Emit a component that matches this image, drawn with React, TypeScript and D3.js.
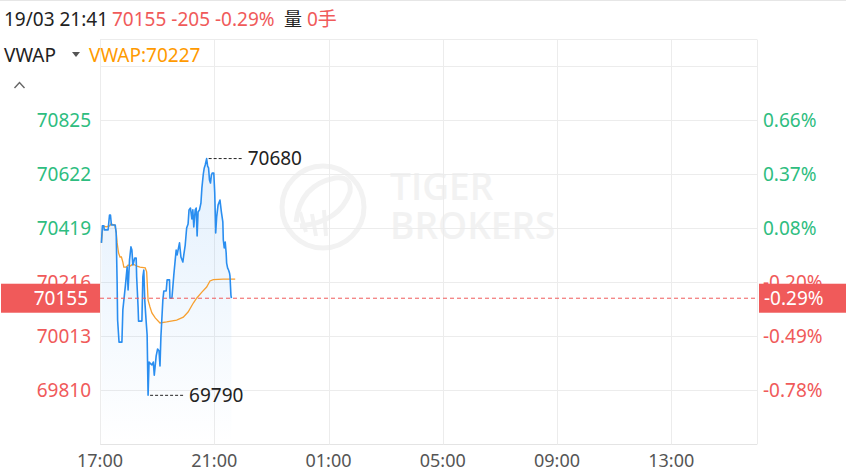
import React from 'react';
import * as d3 from 'd3';

const W = 846;
const H = 473;

// minutes since 17:00
const priceMinutes = [3,5,8,9,17,20,22,24,32,34,36,37,40,46,48,53,57,59,62,65,67,69,73,76,77,80,81,88,90,92,94,97,99,101,103,109,112,114,118,121,124,126,128,132,134,139,141,146,147,151,153,155,158,160,162,167,170,174,176,179,182,185,187,190,193,195,197,200,202,204,206,209,212,214,217,219,221,224,226,228,230,232,234,236,239,241,243,245,248,252,255,258,259,261,263,265,266,268,270,272,273,275,276];
const prices = [70363,70427,70427,70412,70412,70468,70468,70430,70430,70400,70212,70073,69990,69990,70111,70197,70272,70186,70299,70348,70336,70280,70306,70306,70235,70122,70069,70069,70235,70261,70148,70066,70017,69790,69915,69904,69915,69866,69938,69964,69957,69900,70013,70148,70182,70182,70224,70224,70155,70155,70197,70242,70299,70336,70318,70363,70310,70291,70318,70355,70419,70434,70487,70494,70453,70487,70423,70487,70494,70389,70479,70487,70513,70569,70622,70645,70656,70680,70652,70645,70599,70588,70618,70626,70626,70551,70400,70460,70505,70524,70479,70442,70374,70344,70366,70325,70287,70269,70261,70250,70239,70167,70155];

const vwapMinutes = [3,6,13,20,23,31,34,36,39,42,45,48,50,55,59,64,69,73,78,84,95,98,101,105,109,116,126,140,161,175,185,196,203,214,224,231,238,259,284];
const vwapValues = [70363,70427,70423,70427,70434,70430,70404,70363,70325,70310,70310,70291,70272,70272,70280,70276,70284,70280,70276,70272,70269,70254,70148,70122,70100,70081,70062,70066,70073,70084,70103,70137,70155,70178,70197,70220,70225,70227,70227];

const yTicks = [70825, 70622, 70419, 70216, 70013, 69810];
const xTickMinutes = [0, 240, 480, 720, 960, 1200];
const xTickLabels = ['17:00', '21:00', '01:00', '05:00', '09:00', '13:00'];

const prevClose = 70360;
const lastPrice = 70155;
const lastChange = -205;
const lastPct = '-0.29%';
const vwapLast = 70227;
const headerTime = '19/03 21:41';
const volumeText = '0手';

const FONT = "'Noto Sans', 'Noto Sans CJK SC', sans-serif";
const RED = '#f05a5a';
const GREEN = '#2ebd80';
const BLUE = '#2a8ef0';
const ORANGE = '#f7a030';
const GRID = '#ececec';
const FS = 19;

export default function App() {
  const left = 100;
  const right = 757;
  const top = 66;
  const bottom = 444;
  const x = d3.scaleLinear().domain([0, 1380]).range([left, right]);
  const y = d3.scaleLinear().domain([69607, 71028]).range([bottom, top]);

  const priceData: [number, number][] = priceMinutes.map((m, i) => [m, prices[i]]);
  const vwapData: [number, number][] = vwapMinutes.map((m, i) => [m, vwapValues[i]]);

  const line = d3.line<[number, number]>().x(d => x(d[0])).y(d => y(d[1]));
  const area = d3.area<[number, number]>().x(d => x(d[0])).y0(bottom).y1(d => y(d[1]));

  const hiIdx = d3.maxIndex(prices);
  const loIdx = d3.minIndex(prices);
  const hx = x(priceMinutes[hiIdx]);
  const hy = y(prices[hiIdx]);
  const lx = x(priceMinutes[loIdx]);
  const ly = y(prices[loIdx]);

  const pct = (v: number) => ((v - prevClose) / prevClose * 100).toFixed(2) + '%';
  const col = (v: number) => (v > prevClose ? GREEN : RED);
  const yLast = y(lastPrice);
  const crisp = (v: number) => Math.round(v) + 0.5;

  const hGrid = [top, ...yTicks.map(t => y(t))];
  const vGrid = [...xTickMinutes.map(m => x(m)), right];

  return (
    <svg width={W} height={H} style={{ position: 'absolute', left: 0, top: 0, background: '#fff' }} fontFamily={FONT}>
      <defs>
        <linearGradient id="fillGrad" x1="0" y1="0" x2="0" y2="1">
          <stop offset="0%" stopColor="#2a8ef0" stopOpacity={0.13} />
          <stop offset="100%" stopColor="#2a8ef0" stopOpacity={0} />
        </linearGradient>
      </defs>
      <rect x={0} y={0} width={W} height={H} fill="#fff" />
      <line x1={0} x2={W} y1={0.5} y2={0.5} stroke="#e6e6e6" />

      {/* header */}
      <text x={4} y={26} fontSize={FS} fill="#222">{headerTime}</text>
      <text x={112} y={26} fontSize={FS} fill={RED}>{`${lastPrice} ${lastChange} ${lastPct}`}</text>
      <text x={284} y={26} fontSize={18} fill="#222">量</text>
      <text x={307} y={26} fontSize={FS} fill={RED}>{volumeText}</text>

      {/* watermark */}
      <g>
        <circle cx={323} cy={207} r={41} fill="none" stroke="#f2f2f2" strokeWidth={5} />
        <path d="M296,222 Q300,185 335,178 Q352,176 350,192 Q340,222 300,226" fill="none" stroke="#f2f2f2" strokeWidth={5} />
        <path d="M300,212 L306,232 M312,214 L316,236 M324,210 L326,236" stroke="#f2f2f2" strokeWidth={4} />
        <text x={390} y={200} fontSize={37} fontWeight={600} fill="#f2f2f2" fontFamily="'Open Sans', sans-serif">TIGER</text>
        <text x={390} y={239} fontSize={37} fontWeight={600} fill="#f2f2f2" fontFamily="'Open Sans', sans-serif">BROKERS</text>
      </g>

      {/* grid */}
      <line x1={left} x2={right} y1={39.5} y2={39.5} stroke={GRID} />
      {hGrid.map((g, i) => (
        <line key={'h' + i} x1={left} x2={right} y1={crisp(g)} y2={crisp(g)} stroke={GRID} />
      ))}
      <line x1={left} x2={right} y1={bottom + 0.5} y2={bottom + 0.5} stroke="#e4e4e4" />
      {vGrid.map((g, i) => (
        <line key={'v' + i} x1={crisp(g)} x2={crisp(g)} y1={39.5} y2={bottom + 0.5} stroke={GRID} />
      ))}

      {/* legend */}
      <text x={4} y={62} fontSize={FS} fill="#222">VWAP</text>
      <path d="M72,52 L80,52 L76,57 Z" fill="#555" />
      <text x={89} y={62} fontSize={FS} fill="#ff9a00">{`VWAP:${vwapLast}`}</text>
      <path d="M14.5,88 L19.5,82.5 L24.5,88" fill="none" stroke="#666" strokeWidth={1.4} />

      {/* y labels */}
      {yTicks.map((t, i) => (
        <g key={'yl' + i}>
          <text x={91} y={y(t)} dy="0.36em" textAnchor="end" fontSize={FS} fill={col(t)}>{t}</text>
          <text x={763} y={y(t)} dy="0.36em" fontSize={FS} fill={col(t)}>{pct(t)}</text>
        </g>
      ))}

      {/* x labels */}
      {xTickMinutes.map((m, i) => (
        <text key={'xl' + i} x={x(m)} y={467} textAnchor="middle" fontSize={18} fill="#555">{xTickLabels[i]}</text>
      ))}

      {/* series */}
      <path d={area(priceData) || ''} fill="url(#fillGrad)" />
      <path d={line(vwapData) || ''} fill="none" stroke={ORANGE} strokeWidth={1.3} />
      <path d={line(priceData) || ''} fill="none" stroke={BLUE} strokeWidth={1.6} strokeLinejoin="round" />

      {/* last price line */}
      <line x1={left} x2={right} y1={yLast} y2={yLast} stroke={RED} strokeDasharray="4 3" />
      <rect x={1} y={yLast - 14.5} width={99} height={29} fill={RED} />
      <text x={88} y={yLast} dy="0.36em" textAnchor="end" fontSize={FS} fill="#fff">{lastPrice}</text>
      <rect x={759} y={yLast - 14.5} width={87} height={29} fill={RED} />
      <text x={764} y={yLast} dy="0.36em" fontSize={FS} fill="#fff">{pct(lastPrice)}</text>

      {/* high / low annotations */}
      <line x1={hx + 2} x2={hx + 35} y1={hy} y2={hy} stroke="#222" strokeDasharray="3 2" />
      <text x={hx + 41} y={hy} dy="0.36em" fontSize={FS} fill="#222">{prices[hiIdx]}</text>
      <line x1={lx + 2} x2={lx + 35} y1={ly} y2={ly} stroke="#222" strokeDasharray="3 2" />
      <text x={lx + 41} y={ly} dy="0.36em" fontSize={FS} fill="#222">{prices[loIdx]}</text>
    </svg>
  );
}
